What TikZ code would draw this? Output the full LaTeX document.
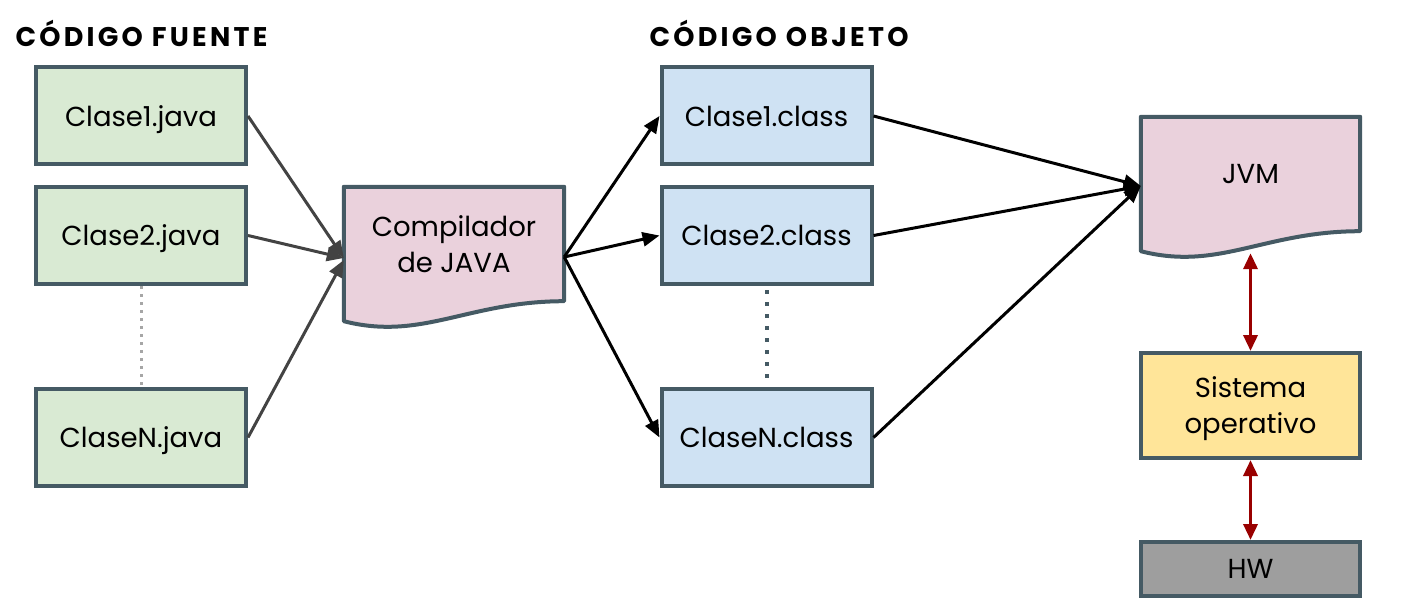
\documentclass[tikz,border=0pt]{standalone}
\usepackage{fontspec}
\setmainfont{Poppins}
\usetikzlibrary{arrows.meta,calc,backgrounds}
\definecolor{boxline}{HTML}{455A64}
\definecolor{javagreen}{HTML}{D9EAD3}
\definecolor{classblue}{HTML}{CFE2F3}
\definecolor{docpink}{HTML}{EAD1DC}
\definecolor{soyellow}{HTML}{FFE599}
\definecolor{hwgray}{HTML}{9E9E9E}
\definecolor{arrowgray}{HTML}{434343}
\definecolor{darkred}{HTML}{990000}
\begin{document}
\begin{tikzpicture}[x=1pt, y=-1pt,
    main node/.style={rectangle, draw=boxline, line width=4pt, minimum width=210pt, minimum height=97pt, inner sep=0pt, text depth=0pt, align=center, font=\fontsize{27.5}{36}\selectfont},
    java node/.style={main node, fill=javagreen},
    class node/.style={main node, fill=classblue},
    doc node/.style={rectangle, minimum width=220pt, minimum height=114pt, inner sep=0pt, align=center, font=\fontsize{27.5}{36}\selectfont},
    doc shape/.style={draw=boxline, line width=4pt, fill=docpink, line join=round},
    title/.style={anchor=west, font=\fontsize{27}{30}\selectfont\bfseries\addfontfeatures{LetterSpace=12}},
    gray arrow/.style={draw=arrowgray, line width=3pt, -{Triangle[length=17pt,width=14pt]}},
    black arrow/.style={draw=black, line width=3pt, -{Triangle[length=17pt,width=14pt]}},
    red arrow/.style={draw=darkred, line width=3.5pt, {Triangle[length=16pt,width=14pt]}-{Triangle[length=16pt,width=14pt]}}]

    \useasboundingbox (0,0) rectangle (1412,612);

    \node[title] at (12, 33) (tfuente) {CÓDIGO FUENTE};
    \node[title] at (646, 33) (tobjeto) {CÓDIGO OBJETO};

    \node[java node] at (141, 116) (j1) {Clase1.java};
    \node[java node] at (141, 235.5) (j2) {Clase2.java};
    \node[java node] at (141, 437.5) (jn) {ClaseN.java};

    \node[doc node] at (454, 244) (comp) {Compilador\\de JAVA};

    \node[class node] at (766.5, 116) (c1) {Clase1.class};
    \node[class node] at (766.5, 235.5) (c2) {Clase2.class};
    \node[class node] at (766.5, 437.5) (cn) {ClaseN.class};

    \node[doc node, minimum width=219pt] at (1250.5, 174) (jvm) {JVM};
    \node[main node, fill=soyellow, minimum width=219pt, minimum height=105pt] at (1250.5, 405.5) (so) {Sistema\\operativo};
    \node[main node, fill=hwgray, minimum width=219pt, minimum height=54pt] at (1250.5, 569) (hw) {HW};

    % wavy document outlines
    \begin{scope}[on background layer]
        \foreach \d in {comp, jvm}
            \draw[doc shape] (\d.north west) -- (\d.north east) -- (\d.south east)
                .. controls +(-96,0) and +(78,20) .. ($(\d.south west)+(0,20)$) -- cycle;
    \end{scope}

    \draw[draw=gray!70, line width=3pt, dash pattern=on 3pt off 5pt] (j2.south) -- (jn.north);
    \draw[draw=boxline, line width=4pt, dash pattern=on 4pt off 8pt] ([yshift=-4pt]c2.south) -- ([yshift=9pt]cn.north);

    \draw[gray arrow] (j1.east) -- ([yshift=-14pt]comp.west);
    \draw[gray arrow] (j2.east) -- ([yshift=-14pt]comp.west);
    \draw[gray arrow] (jn.east) -- ([yshift=-16pt]comp.west);

    \draw[black arrow] ([yshift=-13pt]comp.east) -- (c1.west);
    \draw[black arrow] ([yshift=-13pt]comp.east) -- (c2.west);
    \draw[black arrow] ([yshift=-13pt]comp.east) -- (cn.west);

    \draw[black arrow] (c1.east) -- ([yshift=-12pt]jvm.west);
    \draw[black arrow] (c2.east) -- ([yshift=-12pt]jvm.west);
    \draw[black arrow] (cn.east) -- ([yshift=-12pt]jvm.west);

    \draw[red arrow] ([yshift=-22pt]jvm.south) -- (so.north);
    \draw[red arrow] (so.south) -- (hw.north);

\end{tikzpicture}
\end{document}
